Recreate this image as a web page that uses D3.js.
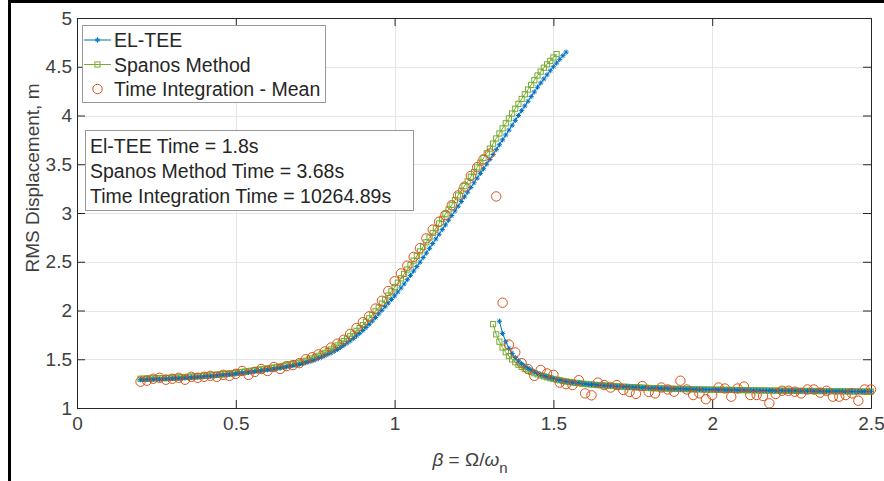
<!DOCTYPE html>
<html>
<head>
<meta charset="utf-8">
<script src="https://cdn.jsdelivr.net/npm/d3@7"></script>
<style>
  body { margin: 0; background: #fff; }
  text { font-family: "Liberation Sans", Arial, Helvetica, sans-serif; }
</style>
</head>
<body>
<div id="chart"></div>
<script>
// Data
const elteeUpperBeta = [
  0.20,0.21,0.22,0.23,0.24,0.25,0.26,0.27,0.28,0.29,
  0.30,0.31,0.32,0.33,0.34,0.35,0.36,0.37,0.38,0.39,
  0.40,0.41,0.42,0.43,0.44,0.45,0.46,0.47,0.48,0.49,
  0.50,0.51,0.52,0.53,0.54,0.55,0.56,0.57,0.58,0.59,
  0.60,0.61,0.62,0.63,0.64,0.65,0.66,0.67,0.68,0.69,
  0.70,0.71,0.72,0.73,0.74,0.75,0.76,0.77,0.78,0.79,
  0.80,0.81,0.82,0.83,0.84,0.85,0.86,0.87,0.88,0.89,
  0.90,0.91,0.92,0.93,0.94,0.95,0.96,0.97,0.98,0.99,
  1.00,1.01,1.02,1.03,1.04,1.05,1.06,1.07,1.08,1.09,
  1.10,1.11,1.12,1.13,1.14,1.15,1.16,1.17,1.18,1.19,
  1.20,1.21,1.22,1.23,1.24,1.25,1.26,1.27,1.28,1.29,
  1.30,1.31,1.32,1.33,1.34,1.35,1.36,1.37,1.38,1.39,
  1.40,1.41,1.42,1.43,1.44,1.45,1.46,1.47,1.48,1.49,
  1.50,1.51,1.52,1.53,1.54
];
const elteeUpperRms = [
  1.290,1.291,1.292,1.293,1.294,1.295,1.296,1.298,1.299,1.300,
  1.302,1.304,1.305,1.307,1.309,1.311,1.313,1.315,1.317,1.320,
  1.322,1.325,1.327,1.330,1.333,1.336,1.339,1.342,1.345,1.348,
  1.352,1.355,1.359,1.362,1.366,1.370,1.374,1.379,1.383,1.388,
  1.392,1.396,1.401,1.406,1.411,1.416,1.422,1.428,1.434,1.440,
  1.447,1.456,1.465,1.474,1.484,1.495,1.508,1.521,1.535,1.550,
  1.565,1.583,1.601,1.621,1.642,1.665,1.688,1.713,1.739,1.766,
  1.795,1.826,1.858,1.892,1.928,1.965,2.002,2.039,2.076,2.113,
  2.150,2.190,2.231,2.273,2.316,2.360,2.405,2.450,2.496,2.543,
  2.590,2.638,2.686,2.734,2.782,2.830,2.878,2.926,2.974,3.022,
  3.070,3.118,3.166,3.214,3.262,3.310,3.358,3.406,3.454,3.502,
  3.550,3.600,3.650,3.700,3.750,3.800,3.850,3.900,3.950,4.000,
  4.050,4.098,4.146,4.194,4.242,4.290,4.333,4.375,4.417,4.459,
  4.500,4.538,4.576,4.613,4.650
];
const elteeLowerBeta = [
  1.33,1.34,1.35,1.36,1.37,1.38,1.39,
  1.40,1.41,1.42,1.43,1.44,1.45,1.46,1.47,1.48,1.49,
  1.50,1.51,1.52,1.53,1.54,1.55,1.56,1.57,1.58,1.59,
  1.60,1.61,1.62,1.63,1.64,1.65,1.66,1.67,1.68,1.69,
  1.70,1.71,1.72,1.73,1.74,1.75,1.76,1.77,1.78,1.79,
  1.80,1.81,1.82,1.83,1.84,1.85,1.86,1.87,1.88,1.89,
  1.90,1.91,1.92,1.93,1.94,1.95,1.96,1.97,1.98,1.99,
  2.00,2.01,2.02,2.03,2.04,2.05,2.06,2.07,2.08,2.09,
  2.10,2.11,2.12,2.13,2.14,2.15,2.16,2.17,2.18,2.19,
  2.20,2.21,2.22,2.23,2.24,2.25,2.26,2.27,2.28,2.29,
  2.30,2.31,2.32,2.33,2.34,2.35,2.36,2.37,2.38,2.39,
  2.40,2.41,2.42,2.43,2.44,2.45,2.46,2.47,2.48,2.49,
  2.50
];
const elteeLowerRms = [
  1.890,1.765,1.680,1.612,1.560,1.518,1.484,
  1.455,1.430,1.409,1.389,1.371,1.355,1.341,1.329,1.318,1.309,
  1.300,1.292,1.285,1.279,1.273,1.268,1.263,1.259,1.255,1.251,
  1.247,1.244,1.241,1.238,1.235,1.233,1.231,1.229,1.227,1.225,
  1.222,1.220,1.219,1.217,1.215,1.214,1.212,1.211,1.209,1.207,
  1.205,1.204,1.203,1.202,1.201,1.200,1.199,1.198,1.197,1.196,
  1.195,1.194,1.194,1.193,1.192,1.192,1.191,1.190,1.189,1.189,
  1.188,1.188,1.187,1.187,1.186,1.186,1.185,1.185,1.184,1.184,
  1.183,1.183,1.182,1.182,1.181,1.181,1.180,1.180,1.179,1.179,
  1.178,1.178,1.178,1.177,1.177,1.177,1.176,1.176,1.176,1.175,
  1.175,1.175,1.174,1.174,1.174,1.173,1.173,1.173,1.172,1.172,
  1.172,1.171,1.171,1.171,1.170,1.170,1.170,1.169,1.169,1.168,
  1.168
];

const spanosUpperBeta = [
  0.20,0.21,0.22,0.23,0.24,0.25,0.26,0.27,0.28,0.29,
  0.30,0.31,0.32,0.33,0.34,0.35,0.36,0.37,0.38,0.39,
  0.40,0.41,0.42,0.43,0.44,0.45,0.46,0.47,0.48,0.49,
  0.50,0.51,0.52,0.53,0.54,0.55,0.56,0.57,0.58,0.59,
  0.60,0.61,0.62,0.63,0.64,0.65,0.66,0.67,0.68,0.69,
  0.70,0.71,0.72,0.73,0.74,0.75,0.76,0.77,0.78,0.79,
  0.80,0.81,0.82,0.83,0.84,0.85,0.86,0.87,0.88,0.89,
  0.90,0.91,0.92,0.93,0.94,0.95,0.96,0.97,0.98,0.99,
  1.00,1.01,1.02,1.03,1.04,1.05,1.06,1.07,1.08,1.09,
  1.10,1.11,1.12,1.13,1.14,1.15,1.16,1.17,1.18,1.19,
  1.20,1.21,1.22,1.23,1.24,1.25,1.26,1.27,1.28,1.29,
  1.30,1.31,1.32,1.33,1.34,1.35,1.36,1.37,1.38,1.39,
  1.40,1.41,1.42,1.43,1.44,1.45,1.46,1.47,1.48,1.49,
  1.50,1.51
];
const spanosUpperRms = [
  1.300,1.301,1.302,1.303,1.304,1.305,1.306,1.307,1.308,1.309,
  1.310,1.312,1.314,1.316,1.318,1.320,1.322,1.324,1.326,1.328,
  1.330,1.333,1.336,1.339,1.342,1.345,1.348,1.351,1.355,1.358,
  1.362,1.366,1.370,1.374,1.378,1.383,1.387,1.391,1.396,1.400,
  1.405,1.410,1.415,1.420,1.426,1.432,1.438,1.445,1.451,1.458,
  1.465,1.475,1.485,1.496,1.508,1.520,1.535,1.550,1.566,1.583,
  1.600,1.620,1.641,1.663,1.686,1.710,1.736,1.763,1.791,1.820,
  1.850,1.884,1.919,1.955,1.992,2.030,2.071,2.112,2.154,2.197,
  2.240,2.285,2.330,2.375,2.420,2.465,2.512,2.559,2.606,2.653,
  2.700,2.748,2.796,2.844,2.892,2.940,2.988,3.036,3.084,3.132,
  3.180,3.228,3.276,3.324,3.372,3.420,3.468,3.516,3.564,3.612,
  3.660,3.712,3.764,3.816,3.868,3.920,3.970,4.020,4.070,4.120,
  4.170,4.218,4.266,4.314,4.362,4.410,4.450,4.490,4.525,4.560,
  4.595,4.630
];
const spanosLowerBeta = [
  1.31,1.32,1.33,1.34,1.35,1.36,1.37,1.38,1.39,
  1.40,1.41,1.42,1.43,1.44,1.45,1.46,1.47,1.48,1.49,
  1.50,1.51,1.52,1.53,1.54,1.55,1.56,1.57,1.58,1.59,
  1.60,1.61,1.62,1.63,1.64,1.65,1.66,1.67,1.68,1.69,
  1.70,1.71,1.72,1.73,1.74,1.75,1.76,1.77,1.78,1.79,
  1.80,1.81,1.82,1.83,1.84,1.85,1.86,1.87,1.88,1.89,
  1.90,1.91,1.92,1.93,1.94,1.95,1.96,1.97,1.98,1.99,
  2.00,2.01,2.02,2.03,2.04,2.05,2.06,2.07,2.08,2.09,
  2.10,2.11,2.12,2.13,2.14,2.15,2.16,2.17,2.18,2.19,
  2.20,2.21,2.22,2.23,2.24,2.25,2.26,2.27,2.28,2.29,
  2.30,2.31,2.32,2.33,2.34,2.35,2.36,2.37,2.38,2.39,
  2.40,2.41,2.42,2.43,2.44,2.45,2.46,2.47,2.48,2.49,
  2.50
];
const spanosLowerRms = [
  1.860,1.755,1.680,1.620,1.572,1.532,1.498,1.469,1.444,
  1.422,1.403,1.386,1.371,1.357,1.345,1.334,1.324,1.315,1.306,
  1.298,1.291,1.284,1.278,1.272,1.267,1.262,1.258,1.254,1.250,
  1.247,1.244,1.241,1.238,1.235,1.233,1.231,1.229,1.227,1.225,
  1.222,1.220,1.219,1.217,1.215,1.214,1.212,1.211,1.209,1.207,
  1.205,1.204,1.203,1.202,1.201,1.200,1.199,1.198,1.197,1.196,
  1.195,1.194,1.194,1.193,1.192,1.192,1.191,1.190,1.189,1.189,
  1.188,1.188,1.187,1.187,1.186,1.186,1.185,1.185,1.184,1.184,
  1.183,1.183,1.182,1.182,1.181,1.181,1.180,1.180,1.179,1.179,
  1.178,1.178,1.178,1.177,1.177,1.177,1.176,1.176,1.176,1.175,
  1.175,1.175,1.174,1.174,1.174,1.173,1.173,1.173,1.172,1.172,
  1.172,1.171,1.171,1.171,1.170,1.170,1.170,1.169,1.169,1.168,
  1.168
];

const timeIntBeta = [
  0.20,0.22,0.24,0.26,0.28,0.30,0.32,0.34,0.36,0.38,
  0.40,0.42,0.44,0.46,0.48,0.50,0.52,0.54,0.56,0.58,
  0.60,0.62,0.64,0.66,0.68,0.70,0.72,0.74,0.76,0.78,
  0.80,0.82,0.84,0.86,0.88,0.90,0.92,0.94,0.96,0.98,
  1.00,1.02,1.04,1.06,1.08,1.10,1.12,1.14,1.16,1.18,
  1.20,1.22,1.24,1.26,1.28,1.30,
  1.32,1.34,1.36,1.38,1.40,1.42,1.44,1.46,1.48,1.50,
  1.52,1.54,1.56,1.58,1.60,1.62,1.64,1.66,1.68,1.70,
  1.72,1.74,1.76,1.78,1.80,1.82,1.84,1.86,1.88,1.90,
  1.92,1.94,1.96,1.98,2.00,2.02,2.04,2.06,2.08,2.10,
  2.12,2.14,2.16,2.18,2.20,2.22,2.24,2.26,2.28,2.30,
  2.32,2.34,2.36,2.38,2.40,2.42,2.44,2.46,2.48,2.50
];
const timeIntRms = [
  1.27,1.28,1.30,1.31,1.29,1.30,1.31,1.29,1.32,1.31,
  1.32,1.33,1.32,1.34,1.33,1.35,1.38,1.34,1.37,1.40,
  1.38,1.42,1.40,1.43,1.44,1.46,1.50,1.52,1.55,1.58,
  1.62,1.66,1.70,1.76,1.82,1.88,1.94,2.02,2.10,2.20,
  2.30,2.38,2.46,2.55,2.64,2.74,2.83,2.91,2.98,3.08,
  3.18,3.27,3.38,3.47,3.55,3.61,
  3.17,2.08,1.65,1.57,1.46,1.40,1.33,1.39,1.355,1.34,
  1.26,1.245,1.235,1.285,1.15,1.13,1.26,1.235,1.21,1.235,
  1.185,1.165,1.145,1.225,1.165,1.15,1.21,1.19,1.167,1.28,
  1.19,1.133,1.15,1.09,1.133,1.21,1.20,1.116,1.20,1.22,
  1.133,1.133,1.123,1.048,1.144,1.177,1.177,1.167,1.15,1.19,
  1.19,1.157,1.177,1.116,1.116,1.133,1.15,1.075,1.19,1.19
];

const xTickValues = [0, 0.5, 1, 1.5, 2, 2.5];
const yTickValues = [1, 1.5, 2, 2.5, 3, 3.5, 4, 4.5, 5];
const legendLabels = ['EL-TEE', 'Spanos Method', 'Time Integration - Mean'];
const timingLines = ['El-TEE Time = 1.8s', 'Spanos Method Time = 3.68s', 'Time Integration Time = 10264.89s'];

// Colours
const blue = '#0072BD';
const green = '#77AC30';
const orange = '#D95319';
const axisColor = '#262626';

// Dimensions
const dimensions = { width: 884, height: 481, left: 77, right: 871, top: 18, bottom: 408 };

const svg = d3.select('#chart')
  .append('svg')
  .attr('width', dimensions.width)
  .attr('height', dimensions.height);

svg.append('rect')
  .attr('width', dimensions.width)
  .attr('height', dimensions.height)
  .attr('fill', '#fff');

// Scales
const xScale = d3.scaleLinear().domain([0, 2.5]).range([dimensions.left, dimensions.right]);
const yScale = d3.scaleLinear().domain([1, 5]).range([dimensions.bottom, dimensions.top]);

// Grid
const grid = svg.append('g').attr('stroke', '#e6e6e6').attr('stroke-width', 1);
grid.selectAll('.vx')
  .data(xTickValues.slice(1, -1))
  .join('line')
  .attr('x1', d => Math.round(xScale(d)) + 0.5)
  .attr('x2', d => Math.round(xScale(d)) + 0.5)
  .attr('y1', dimensions.top)
  .attr('y2', dimensions.bottom);
grid.selectAll('.hy')
  .data(yTickValues.slice(1, -1))
  .join('line')
  .attr('y1', d => Math.round(yScale(d)) + 0.5)
  .attr('y2', d => Math.round(yScale(d)) + 0.5)
  .attr('x1', dimensions.left)
  .attr('x2', dimensions.right);

// Axes
const fmt = d => String(d);
const xAxisGroup = svg.append('g')
  .attr('transform', `translate(0, ${dimensions.bottom})`)
  .call(d3.axisBottom(xScale).tickValues(xTickValues).tickFormat(fmt).tickSizeInner(-8).tickSizeOuter(0).tickPadding(9));
const yAxisGroup = svg.append('g')
  .attr('transform', `translate(${dimensions.left}, 0)`)
  .call(d3.axisLeft(yScale).tickValues(yTickValues).tickFormat(fmt).tickSizeInner(-8).tickSizeOuter(0).tickPadding(5));
const topAxis = svg.append('g')
  .attr('transform', `translate(0, ${dimensions.top})`)
  .call(d3.axisTop(xScale).tickValues(xTickValues).tickFormat('').tickSizeInner(-8).tickSizeOuter(0));
const rightAxis = svg.append('g')
  .attr('transform', `translate(${dimensions.right}, 0)`)
  .call(d3.axisRight(yScale).tickValues(yTickValues).tickFormat('').tickSizeInner(-8).tickSizeOuter(0));

[xAxisGroup, yAxisGroup, topAxis, rightAxis].forEach(g => {
  g.select('.domain').attr('stroke', axisColor);
  g.selectAll('.tick line').attr('stroke', axisColor);
  g.selectAll('.tick text')
    .attr('fill', '#404040')
    .style('font-size', '19px')
    .style('font-family', '"Liberation Sans", Arial, sans-serif');
});

// Series
const line = d3.line().x(d => xScale(d[0])).y(d => yScale(d[1]));
const zip = (a, b) => a.map((v, i) => [v, b[i]]);

const spanosUpper = zip(spanosUpperBeta, spanosUpperRms);
const spanosLower = zip(spanosLowerBeta, spanosLowerRms);
const elteeUpper = zip(elteeUpperBeta, elteeUpperRms);
const elteeLower = zip(elteeLowerBeta, elteeLowerRms);
const timeInt = zip(timeIntBeta, timeIntRms);

const sq = 2.6;
const drawSpanos = (g, data) => {
  g.append('path').datum(data).attr('d', line)
    .attr('fill', 'none').attr('stroke', green).attr('stroke-width', 1);
  g.selectAll(null).data(data).join('rect')
    .attr('x', d => xScale(d[0]) - sq)
    .attr('y', d => yScale(d[1]) - sq)
    .attr('width', sq * 2)
    .attr('height', sq * 2)
    .attr('fill', 'none')
    .attr('stroke', green)
    .attr('stroke-width', 1);
};

const star = 'M-2.6,0H2.6M0,-2.6V2.6M-1.8,-1.8L1.8,1.8M-1.8,1.8L1.8,-1.8';
const drawEltee = (g, data) => {
  g.append('path').datum(data).attr('d', line)
    .attr('fill', 'none').attr('stroke', blue).attr('stroke-width', 1);
  g.selectAll(null).data(data).join('path')
    .attr('transform', d => `translate(${xScale(d[0])},${yScale(d[1])})`)
    .attr('d', star)
    .attr('fill', 'none')
    .attr('stroke', blue)
    .attr('stroke-width', 1);
};

const plot = svg.append('g');
drawSpanos(plot.append('g'), spanosUpper);
drawSpanos(plot.append('g'), spanosLower);
drawEltee(plot.append('g'), elteeUpper);
drawEltee(plot.append('g'), elteeLower);

plot.append('g').selectAll('circle')
  .data(timeInt)
  .join('circle')
  .attr('cx', d => xScale(d[0]))
  .attr('cy', d => yScale(d[1]))
  .attr('r', 4.7)
  .attr('fill', 'none')
  .attr('stroke', orange)
  .attr('stroke-width', 1);

// Legend
const legend = svg.append('g');
legend.append('rect')
  .attr('x', 82.5).attr('y', 25.5)
  .attr('width', 243).attr('height', 77)
  .attr('fill', '#fff').attr('stroke', '#999').attr('stroke-width', 1);
const rowY = [40, 64.5, 89];
legendLabels.forEach((label, i) => {
  const yy = rowY[i];
  const g = legend.append('g');
  if (i === 0) {
    g.append('line').attr('x1', 84).attr('x2', 111).attr('y1', yy).attr('y2', yy).attr('stroke', blue);
    g.append('path').attr('transform', `translate(97.5,${yy})`).attr('d', star).attr('stroke', blue).attr('fill', 'none');
  } else if (i === 1) {
    g.append('line').attr('x1', 84).attr('x2', 111).attr('y1', yy).attr('y2', yy).attr('stroke', green);
    g.append('rect').attr('x', 97.5 - sq).attr('y', yy - sq).attr('width', sq * 2).attr('height', sq * 2)
      .attr('fill', 'none').attr('stroke', green);
  } else {
    g.append('circle').attr('cx', 97.5).attr('cy', yy).attr('r', 4.7).attr('fill', 'none').attr('stroke', orange);
  }
  g.append('text')
    .attr('x', 114).attr('y', yy + 7)
    .attr('fill', '#262626')
    .style('font-size', '19.5px')
    .text(label);
});

// Timing annotation
const note = svg.append('g');
note.append('rect')
  .attr('x', 85.5).attr('y', 130.5)
  .attr('width', 328).attr('height', 80)
  .attr('fill', '#fff').attr('stroke', '#999').attr('stroke-width', 1);
note.selectAll('text')
  .data(timingLines)
  .join('text')
  .attr('x', 90)
  .attr('y', (d, i) => 153 + i * 25)
  .attr('fill', '#262626')
  .style('font-size', '19.5px')
  .text(d => d);

// Axis labels
svg.append('text')
  .attr('transform', 'translate(39,178) rotate(-90)')
  .attr('text-anchor', 'middle')
  .attr('fill', '#404040')
  .style('font-size', '19px')
  .text('RMS Displacement, m');

const xl = svg.append('text')
  .attr('x', 470).attr('y', 466)
  .attr('text-anchor', 'middle')
  .attr('fill', '#404040')
  .style('font-size', '19px');
xl.append('tspan').style('font-style', 'italic').text('β');
xl.append('tspan').text(' = Ω/');
xl.append('tspan').style('font-style', 'italic').text('ω');
xl.append('tspan').attr('dy', 7).style('font-size', '15px').text('n');

// Outer frame (top and left edges)
svg.append('path')
  .attr('d', 'M9.5,481V1.5H884')
  .attr('fill', 'none')
  .attr('stroke', '#000')
  .attr('stroke-width', 3);
</script>
</body>
</html>
